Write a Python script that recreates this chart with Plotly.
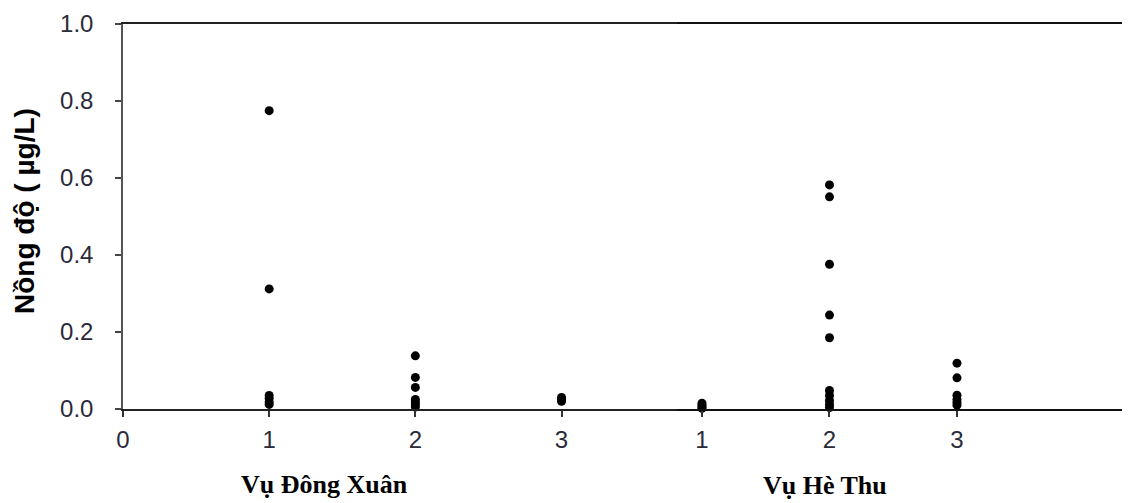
import plotly.graph_objects as go

# ---- data ----
y_ticks = [0.0, 0.2, 0.4, 0.6, 0.8, 1.0]
y_ticktext = ["0.0", "0.2", "0.4", "0.6", "0.8", "1.0"]
left_ticks = [0, 1, 2, 3]
right_ticks = [1, 2, 3]
season_labels = ["Vụ Đông Xuân", "Vụ Hè Thu"]
y_title = "Nồng độ ( µg/L)"

dx_1 = [0.775, 0.312, 0.035, 0.027, 0.018, 0.012]
dx_2 = [0.138, 0.082, 0.056, 0.025, 0.018, 0.012, 0.005]
dx_3 = [0.030, 0.025, 0.020]
ht_1 = [0.015, 0.010, 0.005, 0.002]
ht_2 = [0.582, 0.551, 0.376, 0.244, 0.185, 0.048, 0.035, 0.022, 0.012, 0.004]
ht_3 = [0.119, 0.081, 0.036, 0.025, 0.017, 0.010]

OFF = 8  # page body margin
W, H = 1130 - OFF, 503 - OFF
ML, MR, MT, MB = 123 - OFF, 0, 24 - OFF, 94
PW = W - ML - MR
PH = H - MT - MB

def px_x(p):
    return (p - OFF - ML) / PW

def px_y(p):
    return (H - MB - (p - OFF)) / PH

marker = dict(color="black", size=9, symbol="circle")

fig = go.Figure()
for xv, vals in [(1, dx_1), (2, dx_2), (3, dx_3)]:
    fig.add_trace(go.Scatter(x=[xv] * len(vals), y=vals, mode="markers",
                             marker=marker, xaxis="x", yaxis="y",
                             cliponaxis=False, showlegend=False))
for xv, vals in [(1, ht_1), (2, ht_2), (3, ht_3)]:
    fig.add_trace(go.Scatter(x=[xv] * len(vals), y=vals, mode="markers",
                             marker=marker, xaxis="x2", yaxis="y",
                             cliponaxis=False, showlegend=False))

split = px_x(677)
tickfont = dict(family="Liberation Sans, Arial, sans-serif", size=24, color="#2a2a3a")

fig.update_layout(
    width=W, height=H,
    margin=dict(l=ML, r=MR, t=MT, b=MB),
    paper_bgcolor="white", plot_bgcolor="white",
    showlegend=False,
    xaxis=dict(domain=[0, split], range=[0, 3.79], tickvals=left_ticks,
               ticktext=[str(t) for t in left_ticks],
               ticks="outside", ticklen=6, tickcolor="#333", tickwidth=1.5,
               ticklabelstandoff=2,
               showline=True, linecolor="#222", linewidth=2, mirror=True,
               showgrid=False, zeroline=False, tickfont=tickfont, anchor="y"),
    xaxis2=dict(domain=[split, 1], range=[0.804, 4.357], tickvals=right_ticks,
                ticktext=[str(t) for t in right_ticks],
                ticks="outside", ticklen=6, tickcolor="#333", tickwidth=1.5,
                ticklabelstandoff=2,
                showline=True, linecolor="#111", linewidth=2, mirror=True,
                showgrid=False, zeroline=False, tickfont=tickfont, anchor="y"),
    yaxis=dict(range=[0, 1], tickvals=y_ticks, ticktext=y_ticktext,
               ticks="outside", ticklen=6, tickcolor="#444", tickwidth=1.5,
               ticklabelstandoff=17,
               showline=True, linecolor="#555", linewidth=1.5,
               showgrid=False, zeroline=False, tickfont=tickfont, anchor="x"),
    annotations=[
        dict(text=f"<b>{y_title}</b>", x=px_x(24), y=px_y(211), xref="paper", yref="paper",
             xanchor="center", yanchor="middle",
             textangle=-90, showarrow=False,
             font=dict(family="Liberation Sans, Arial, sans-serif", size=28, color="black")),
        dict(text=f"<b>{season_labels[0]}</b>", x=px_x(324), y=px_y(484), xref="paper", yref="paper",
             xanchor="center", yanchor="middle", showarrow=False,
             font=dict(family="Liberation Serif, Times New Roman, serif", size=26, color="black")),
        dict(text=f"<b>{season_labels[1]}</b>", x=px_x(825), y=px_y(485), xref="paper", yref="paper",
             xanchor="center", yanchor="middle", showarrow=False,
             font=dict(family="Liberation Serif, Times New Roman, serif", size=26, color="black")),
    ],
)

fig.write_html("out.html")
